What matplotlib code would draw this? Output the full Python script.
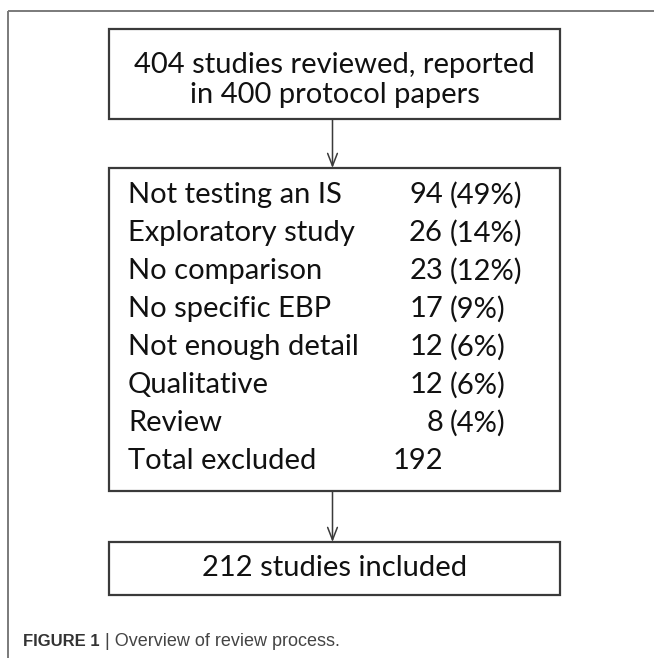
import matplotlib
matplotlib.use("Agg")
import matplotlib.pyplot as plt
from matplotlib.patches import Rectangle
from matplotlib import font_manager

reasons = ["Not testing an IS", "Exploratory study", "No comparison", "No specific EBP",
           "Not enough detail", "Qualitative", "Review", "Total excluded"]
counts = ["94", "26", "23", "17", "12", "12", "8", "192"]
pcts = ["(49%)", "(14%)", "(12%)", "(9%)", "(6%)", "(6%)", "(4%)", ""]
top_text = "404 studies reviewed, reported\nin 400 protocol papers"
bottom_text = "212 studies included"
caption_bold = "FIGURE 1"
caption_rest = " | Overview of review process."

W, H = 654, 658
fig = plt.figure(figsize=(W / 100, H / 100), dpi=100)
ax = fig.add_axes([0, 0, 1, 1])
ax.set_xlim(0, W)
ax.set_ylim(H, 0)
ax.axis("off")

names = {f.name for f in font_manager.fontManager.ttflist}
main_font = "Lato" if "Lato" in names else "DejaVu Sans"
cap_font = "Liberation Sans"

FS = 21
tc = "#111111"
bc = "#3a3a3a"

# outer frame
ax.plot([8, W], [11, 11], color="#7a7a7a", lw=1.4, solid_capstyle="butt")
ax.plot([8, 8], [11, H], color="#7a7a7a", lw=1.4, solid_capstyle="butt")

bx0, bx1 = 109, 560
cx = (bx0 + bx1) / 2
boxes = [(29, 119), (168, 491), (542, 595)]
for (y0, y1) in boxes:
    ax.add_patch(Rectangle((bx0, y0), bx1 - bx0, y1 - y0, fill=False, ec=bc, lw=1.6))

# arrows
for (ya, yb) in [(119, 168), (491, 542)]:
    ax.annotate("", xy=(cx - 2, yb), xytext=(cx - 2, ya),
                arrowprops=dict(arrowstyle="->,head_length=0.9,head_width=0.35",
                                color=bc, lw=1.1, shrinkA=0, shrinkB=0))

ax.text(cx, 80, top_text, ha="center", va="center", fontsize=FS, family=main_font,
        color=tc, linespacing=1.15)
ax.text(cx, 568, bottom_text, ha="center", va="center", fontsize=FS, family=main_font, color=tc)

y_start, dy = 195, 38
for i, (r, c, p) in enumerate(zip(reasons, counts, pcts)):
    y = y_start + i * dy
    ax.text(128, y, r, ha="left", va="center", fontsize=FS, family=main_font, color=tc)
    ax.text(443, y, c, ha="right", va="center", fontsize=FS, family=main_font, color=tc)
    if p:
        ax.text(450, y, p, ha="left", va="center", fontsize=FS, family=main_font, color=tc)

cap_y = 641
t = ax.text(23, cap_y, caption_bold, ha="left", va="center", fontsize=12, family=cap_font,
            weight="bold", color="#333333")
fig.canvas.draw()
bb = t.get_window_extent()
x_end = ax.transData.inverted().transform((bb.x1, bb.y0))[0]
ax.text(x_end, cap_y, caption_rest, ha="left", va="center", fontsize=13, family=cap_font,
        color="#444444")

fig.savefig("out.png", dpi=100)
